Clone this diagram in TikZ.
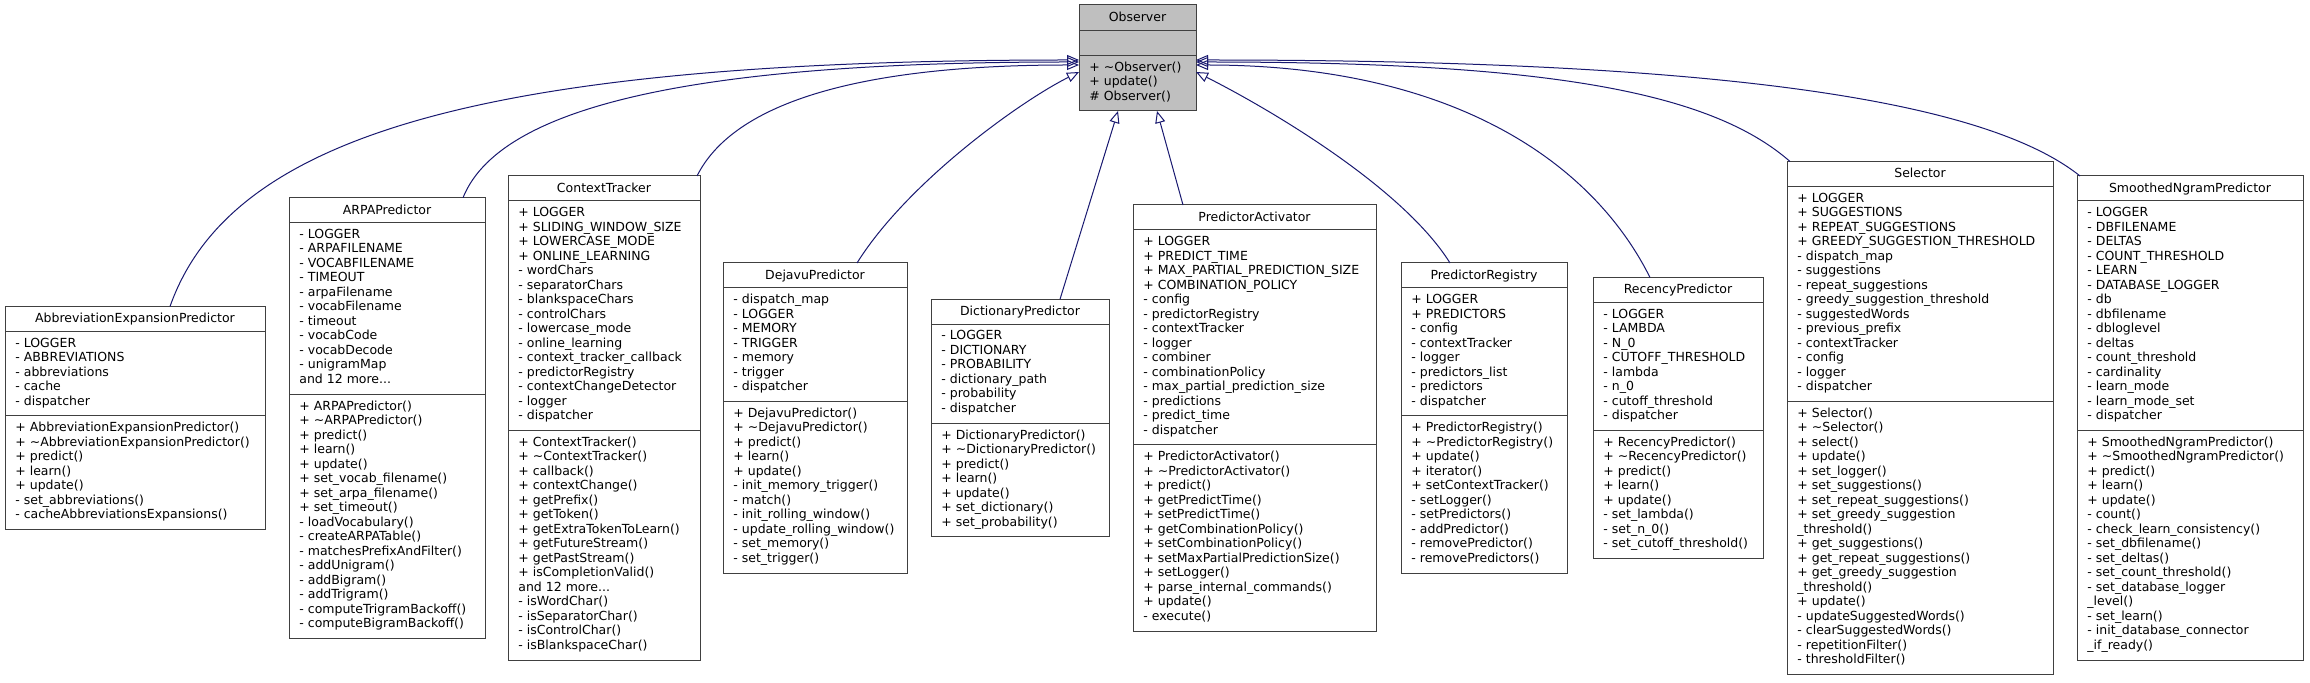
\documentclass[tikz,border=0pt]{standalone}
\usepackage{fontspec}
\setmainfont{DejaVu Sans}
\usetikzlibrary{arrows.meta,calc}
\definecolor{edgeblue}{HTML}{191970}
\definecolor{obsgray}{HTML}{BFBFBF}
\definecolor{boxline}{HTML}{404040}
\newcommand{\tld}{\textasciitilde}
\tikzset{
  classbox/.style={draw=boxline, line width=0.5pt, fill=white, inner sep=0pt, outer sep=0pt, anchor=north west},
  txt/.style={inner sep=0pt, align=left, anchor=north west, font=\fontsize{6.25pt}{7.25pt}\selectfont},
  ttl/.style={inner sep=0pt, font=\fontsize{6.25pt}{7.25pt}\selectfont},
  divider/.style={draw=boxline, line width=0.5pt},
  inh/.style={draw=edgeblue, line width=0.5pt, -{Triangle[open, length=6pt, width=5pt]}},
}
% #1 name, #2 x1, #3 x2, #4 attr lines, #5 method lines, #6 title, #7 attrs, #8 methods
\newcommand{\umlclass}[8]{%
  \pgfmathsetmacro{\ucTop}{418-(25+#4*14.5+12+#5*14.5+12)/2}
  \pgfmathsetmacro{\ucYa}{\ucTop+25}
  \pgfmathsetmacro{\ucYb}{\ucYa+#4*14.5+12}
  \pgfmathsetmacro{\ucBot}{\ucYb+#5*14.5+12}
  \pgfmathsetmacro{\ucW}{(#3-#2)*0.5}
  \pgfmathsetmacro{\ucH}{(\ucBot-\ucTop)*0.5}
  \pgfmathsetmacro{\ucMid}{(#2+#3)/2}
  \node[classbox, minimum width=\ucW pt, minimum height=\ucH pt] (#1) at (#2,\ucTop) {};
  \draw[divider] (#2,\ucYa) -- (#3,\ucYa);
  \draw[divider] (#2,\ucYb) -- (#3,\ucYb);
  \node[ttl, anchor=base] (#1-t) at (\ucMid,\ucTop+16.5) {#6};
  \node[txt] (#1-a) at (#2+10,\ucYa+6) {#7};
  \node[txt] (#1-m) at (#2+10,\ucYb+6) {#8};
}
\begin{document}
\begin{tikzpicture}[x=0.5pt,y=-0.5pt]
\fill[white] (0,0) rectangle (2310,683);
\useasboundingbox (0,0) rectangle (2310,683);

% Observer
\node[classbox, fill=obsgray, minimum width=58.5pt, minimum height=53pt] (obs) at (1079,5) {};
\draw[divider] (1079,31) -- (1196,31);
\draw[divider] (1079,55.5) -- (1196,55.5);
\node[ttl, anchor=base] (obs-t) at (1137.5,21.5) {Observer};
\node[txt] (obs-m) at (1089,61.5) {+ \tld Observer()\\+ update()\\\# Observer()};

\umlclass{abbr}{5}{265}{5}{7}{AbbreviationExpansionPredictor}
{- LOGGER\\- ABBREVIATIONS\\- abbreviations\\- cache\\- dispatcher}
{+ AbbreviationExpansionPredictor()\\+ \tld AbbreviationExpansionPredictor()\\+ predict()\\+ learn()\\+ update()\\- set\_abbreviations()\\- cacheAbbreviationsExpansions()}

\umlclass{arpa}{289}{485}{11}{16}{ARPAPredictor}
{- LOGGER\\- ARPAFILENAME\\- VOCABFILENAME\\- TIMEOUT\\- arpaFilename\\- vocabFilename\\- timeout\\- vocabCode\\- vocabDecode\\- unigramMap\\and 12 more...}
{+ ARPAPredictor()\\+ \tld ARPAPredictor()\\+ predict()\\+ learn()\\+ update()\\+ set\_vocab\_filename()\\+ set\_arpa\_filename()\\+ set\_timeout()\\- loadVocabulary()\\- createARPATable()\\- matchesPrefixAndFilter()\\- addUnigram()\\- addBigram()\\- addTrigram()\\- computeTrigramBackoff()\\- computeBigramBackoff()}

\umlclass{ctx}{508}{700}{15}{15}{ContextTracker}
{+ LOGGER\\+ SLIDING\_WINDOW\_SIZE\\+ LOWERCASE\_MODE\\+ ONLINE\_LEARNING\\- wordChars\\- separatorChars\\- blankspaceChars\\- controlChars\\- lowercase\_mode\\- online\_learning\\- context\_tracker\_callback\\- predictorRegistry\\- contextChangeDetector\\- logger\\- dispatcher}
{+ ContextTracker()\\+ \tld ContextTracker()\\+ callback()\\+ contextChange()\\+ getPrefix()\\+ getToken()\\+ getExtraTokenToLearn()\\+ getFutureStream()\\+ getPastStream()\\+ isCompletionValid()\\and 12 more...\\- isWordChar()\\- isSeparatorChar()\\- isControlChar()\\- isBlankspaceChar()}

\umlclass{dejavu}{723}{907}{7}{11}{DejavuPredictor}
{- dispatch\_map\\- LOGGER\\- MEMORY\\- TRIGGER\\- memory\\- trigger\\- dispatcher}
{+ DejavuPredictor()\\+ \tld DejavuPredictor()\\+ predict()\\+ learn()\\+ update()\\- init\_memory\_trigger()\\- match()\\- init\_rolling\_window()\\- update\_rolling\_window()\\- set\_memory()\\- set\_trigger()}

\umlclass{dict}{931}{1109}{6}{7}{DictionaryPredictor}
{- LOGGER\\- DICTIONARY\\- PROBABILITY\\- dictionary\_path\\- probability\\- dispatcher}
{+ DictionaryPredictor()\\+ \tld DictionaryPredictor()\\+ predict()\\+ learn()\\+ update()\\+ set\_dictionary()\\+ set\_probability()}

\umlclass{pa}{1133}{1376}{14}{12}{PredictorActivator}
{+ LOGGER\\+ PREDICT\_TIME\\+ MAX\_PARTIAL\_PREDICTION\_SIZE\\+ COMBINATION\_POLICY\\- config\\- predictorRegistry\\- contextTracker\\- logger\\- combiner\\- combinationPolicy\\- max\_partial\_prediction\_size\\- predictions\\- predict\_time\\- dispatcher}
{+ PredictorActivator()\\+ \tld PredictorActivator()\\+ predict()\\+ getPredictTime()\\+ setPredictTime()\\+ getCombinationPolicy()\\+ setCombinationPolicy()\\+ setMaxPartialPredictionSize()\\+ setLogger()\\+ parse\_internal\_commands()\\+ update()\\- execute()}

\umlclass{pr}{1401}{1567}{8}{10}{PredictorRegistry}
{+ LOGGER\\+ PREDICTORS\\- config\\- contextTracker\\- logger\\- predictors\_list\\- predictors\\- dispatcher}
{+ PredictorRegistry()\\+ \tld PredictorRegistry()\\+ update()\\+ iterator()\\+ setContextTracker()\\- setLogger()\\- setPredictors()\\- addPredictor()\\- removePredictor()\\- removePredictors()}

\umlclass{rec}{1593}{1763}{8}{8}{RecencyPredictor}
{- LOGGER\\- LAMBDA\\- N\_0\\- CUTOFF\_THRESHOLD\\- lambda\\- n\_0\\- cutoff\_threshold\\- dispatcher}
{+ RecencyPredictor()\\+ \tld RecencyPredictor()\\+ predict()\\+ learn()\\+ update()\\- set\_lambda()\\- set\_n\_0()\\- set\_cutoff\_threshold()}

\umlclass{sel}{1787}{2053}{14}{18}{Selector}
{+ LOGGER\\+ SUGGESTIONS\\+ REPEAT\_SUGGESTIONS\\+ GREEDY\_SUGGESTION\_THRESHOLD\\- dispatch\_map\\- suggestions\\- repeat\_suggestions\\- greedy\_suggestion\_threshold\\- suggestedWords\\- previous\_prefix\\- contextTracker\\- config\\- logger\\- dispatcher}
{+ Selector()\\+ \tld Selector()\\+ select()\\+ update()\\+ set\_logger()\\+ set\_suggestions()\\+ set\_repeat\_suggestions()\\+ set\_greedy\_suggestion\\\_threshold()\\+ get\_suggestions()\\+ get\_repeat\_suggestions()\\+ get\_greedy\_suggestion\\\_threshold()\\+ update()\\- updateSuggestedWords()\\- clearSuggestedWords()\\- repetitionFilter()\\- thresholdFilter()}

\umlclass{sng}{2077}{2303}{15}{15}{SmoothedNgramPredictor}
{- LOGGER\\- DBFILENAME\\- DELTAS\\- COUNT\_THRESHOLD\\- LEARN\\- DATABASE\_LOGGER\\- db\\- dbfilename\\- dbloglevel\\- deltas\\- count\_threshold\\- cardinality\\- learn\_mode\\- learn\_mode\_set\\- dispatcher}
{+ SmoothedNgramPredictor()\\+ \tld SmoothedNgramPredictor()\\+ predict()\\+ learn()\\+ update()\\- count()\\- check\_learn\_consistency()\\- set\_dbfilename()\\- set\_deltas()\\- set\_count\_threshold()\\- set\_database\_logger\\\_level()\\- set\_learn()\\- init\_database\_connector\\\_if\_ready()}

% connector end points
\coordinate (oL1) at ($(obs.north west)+(0,55)$);
\coordinate (oL2) at ($(obs.north west)+(0,57)$);
\coordinate (oL3) at ($(obs.north west)+(0,60)$);
\coordinate (oL4) at ($(obs.north west)+(0,67)$);
\coordinate (oR1) at ($(obs.north east)+(0,55)$);
\coordinate (oR2) at ($(obs.north east)+(0,57)$);
\coordinate (oR3) at ($(obs.north east)+(0,60)$);
\coordinate (oR4) at ($(obs.north east)+(0,67)$);
\coordinate (oB1) at ($(obs.south west)+(39,0)$);
\coordinate (oB2) at ($(obs.south west)+(78,0)$);

\coordinate (sAbbr) at ($(abbr.north west)+(165,0)$);
\coordinate (sArpa) at ($(arpa.north west)+(174,0)$);
\coordinate (sCtx) at ($(ctx.north west)+(189,0)$);
\coordinate (sDej) at ($(dejavu.north west)+(134,0)$);
\coordinate (sDict) at ($(dict.north west)+(129,0)$);
\coordinate (sPa) at ($(pa.north west)+(50,0)$);
\coordinate (sPr) at ($(pr.north west)+(49,0)$);
\coordinate (sRec) at ($(rec.north west)+(57,0)$);
\coordinate (sSel) at ($(sel.north west)+(3,0)$);
\coordinate (sSng) at ($(sng.north west)+(3,0)$);

\draw[inh] (sAbbr) .. controls +(60,-170) and +(-600,0) .. (oL1);
\draw[inh] (sArpa) .. controls +(40,-100) and +(-350,0) .. (oL2);
\draw[inh] (sCtx) .. controls +(40,-80) and +(-200,0) .. (oL3);
\draw[inh] (sDej) .. controls +(50,-80) and +(-60,30) .. (oL4);
\draw[inh] (sDict) -- (oB1);
\draw[inh] (sPa) -- (oB2);
\draw[inh] (sPr) .. controls +(-50,-80) and +(60,30) .. (oR4);
\draw[inh] (sRec) .. controls +(-60,-120) and +(250,0) .. (oR3);
\draw[inh] (sSel) .. controls +(-80,-70) and +(350,0) .. (oR2);
\draw[inh] (sSng) .. controls +(-100,-80) and +(500,0) .. (oR1);
\end{tikzpicture}
\end{document}
